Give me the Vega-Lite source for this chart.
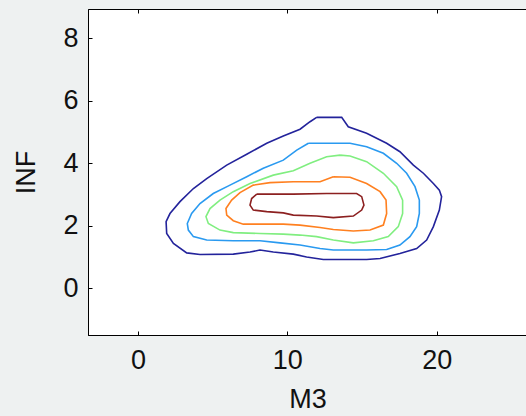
{
  "$schema": "https://vega.github.io/schema/vega-lite/v6.json",
  "width": 439,
  "height": 326,
  "autosize": {"type": "none"},
  "padding": {"left": 88, "top": 9, "right": 0, "bottom": 81},
  "background": "#eef1f1",
  "view": {"fill": "white", "stroke": "black", "strokeWidth": 1},
  "config": {
    "font": "Liberation Sans",
    "axis": {
      "grid": false,
      "labelFont": "Liberation Sans",
      "titleFont": "Liberation Sans",
      "labelFontSize": 27,
      "titleFontSize": 27,
      "titleFontWeight": "normal",
      "labelColor": "#111111",
      "titleColor": "#111111",
      "tickColor": "black",
      "domainColor": "black",
      "tickSize": -4,
      "tickWidth": 1
    }
  },
  "data": {
    "values": [
      {"level": "L1", "i": 1, "M3": 11.96, "INF": 5.47},
      {"level": "L1", "i": 2, "M3": 13.64, "INF": 5.47},
      {"level": "L1", "i": 3, "M3": 14.08, "INF": 5.17},
      {"level": "L1", "i": 4, "M3": 15.31, "INF": 4.96},
      {"level": "L1", "i": 5, "M3": 16.65, "INF": 4.64},
      {"level": "L1", "i": 6, "M3": 17.54, "INF": 4.37},
      {"level": "L1", "i": 7, "M3": 18.44, "INF": 3.94},
      {"level": "L1", "i": 8, "M3": 19.11, "INF": 3.68},
      {"level": "L1", "i": 9, "M3": 19.78, "INF": 3.35},
      {"level": "L1", "i": 10, "M3": 20.18, "INF": 3.14},
      {"level": "L1", "i": 11, "M3": 20.33, "INF": 2.93},
      {"level": "L1", "i": 12, "M3": 20.18, "INF": 2.5},
      {"level": "L1", "i": 13, "M3": 19.78, "INF": 1.97},
      {"level": "L1", "i": 14, "M3": 19.33, "INF": 1.54},
      {"level": "L1", "i": 15, "M3": 18.66, "INF": 1.27},
      {"level": "L1", "i": 16, "M3": 17.54, "INF": 1.11},
      {"level": "L1", "i": 17, "M3": 16.21, "INF": 0.95},
      {"level": "L1", "i": 18, "M3": 15.31, "INF": 0.92},
      {"level": "L1", "i": 19, "M3": 12.41, "INF": 0.92},
      {"level": "L1", "i": 20, "M3": 11.29, "INF": 1.0},
      {"level": "L1", "i": 21, "M3": 10.4, "INF": 1.09},
      {"level": "L1", "i": 22, "M3": 9.06, "INF": 1.16},
      {"level": "L1", "i": 23, "M3": 8.17, "INF": 1.22},
      {"level": "L1", "i": 24, "M3": 7.5, "INF": 1.16},
      {"level": "L1", "i": 25, "M3": 6.38, "INF": 1.09},
      {"level": "L1", "i": 26, "M3": 4.15, "INF": 1.08},
      {"level": "L1", "i": 27, "M3": 3.26, "INF": 1.13},
      {"level": "L1", "i": 28, "M3": 2.37, "INF": 1.43},
      {"level": "L1", "i": 29, "M3": 1.92, "INF": 1.75},
      {"level": "L1", "i": 30, "M3": 1.88, "INF": 2.13},
      {"level": "L1", "i": 31, "M3": 2.14, "INF": 2.39},
      {"level": "L1", "i": 32, "M3": 2.81, "INF": 2.77},
      {"level": "L1", "i": 33, "M3": 3.71, "INF": 3.19},
      {"level": "L1", "i": 34, "M3": 4.6, "INF": 3.51},
      {"level": "L1", "i": 35, "M3": 5.94, "INF": 3.94},
      {"level": "L1", "i": 36, "M3": 7.28, "INF": 4.29},
      {"level": "L1", "i": 37, "M3": 8.62, "INF": 4.64},
      {"level": "L1", "i": 38, "M3": 9.73, "INF": 4.87},
      {"level": "L1", "i": 39, "M3": 10.85, "INF": 5.09},
      {"level": "L1", "i": 40, "M3": 11.52, "INF": 5.33},
      {"level": "L1", "i": 41, "M3": 11.96, "INF": 5.47},

      {"level": "L2", "i": 1, "M3": 11.41, "INF": 4.64},
      {"level": "L2", "i": 2, "M3": 14.2, "INF": 4.64},
      {"level": "L2", "i": 3, "M3": 15.31, "INF": 4.53},
      {"level": "L2", "i": 4, "M3": 16.43, "INF": 4.32},
      {"level": "L2", "i": 5, "M3": 17.32, "INF": 4.0},
      {"level": "L2", "i": 6, "M3": 17.99, "INF": 3.68},
      {"level": "L2", "i": 7, "M3": 18.55, "INF": 3.25},
      {"level": "L2", "i": 8, "M3": 18.84, "INF": 2.82},
      {"level": "L2", "i": 9, "M3": 18.84, "INF": 2.39},
      {"level": "L2", "i": 10, "M3": 18.66, "INF": 1.97},
      {"level": "L2", "i": 11, "M3": 18.21, "INF": 1.65},
      {"level": "L2", "i": 12, "M3": 17.54, "INF": 1.38},
      {"level": "L2", "i": 13, "M3": 16.65, "INF": 1.24},
      {"level": "L2", "i": 14, "M3": 15.31, "INF": 1.22},
      {"level": "L2", "i": 15, "M3": 13.08, "INF": 1.22},
      {"level": "L2", "i": 16, "M3": 12.19, "INF": 1.27},
      {"level": "L2", "i": 17, "M3": 10.85, "INF": 1.38},
      {"level": "L2", "i": 18, "M3": 9.51, "INF": 1.45},
      {"level": "L2", "i": 19, "M3": 8.17, "INF": 1.52},
      {"level": "L2", "i": 20, "M3": 6.38, "INF": 1.52},
      {"level": "L2", "i": 21, "M3": 4.6, "INF": 1.54},
      {"level": "L2", "i": 22, "M3": 3.71, "INF": 1.65},
      {"level": "L2", "i": 23, "M3": 3.37, "INF": 1.86},
      {"level": "L2", "i": 24, "M3": 3.3, "INF": 2.07},
      {"level": "L2", "i": 25, "M3": 3.59, "INF": 2.39},
      {"level": "L2", "i": 26, "M3": 4.15, "INF": 2.71},
      {"level": "L2", "i": 27, "M3": 5.04, "INF": 3.03},
      {"level": "L2", "i": 28, "M3": 6.16, "INF": 3.3},
      {"level": "L2", "i": 29, "M3": 7.28, "INF": 3.57},
      {"level": "L2", "i": 30, "M3": 8.39, "INF": 3.84},
      {"level": "L2", "i": 31, "M3": 9.73, "INF": 4.1},
      {"level": "L2", "i": 32, "M3": 10.63, "INF": 4.42},
      {"level": "L2", "i": 33, "M3": 11.41, "INF": 4.64},

      {"level": "L3", "i": 1, "M3": 13.53, "INF": 4.26},
      {"level": "L3", "i": 2, "M3": 14.2, "INF": 4.23},
      {"level": "L3", "i": 3, "M3": 15.31, "INF": 4.05},
      {"level": "L3", "i": 4, "M3": 16.43, "INF": 3.68},
      {"level": "L3", "i": 5, "M3": 17.32, "INF": 3.25},
      {"level": "L3", "i": 6, "M3": 17.72, "INF": 2.82},
      {"level": "L3", "i": 7, "M3": 17.72, "INF": 2.39},
      {"level": "L3", "i": 8, "M3": 17.43, "INF": 1.97},
      {"level": "L3", "i": 9, "M3": 16.76, "INF": 1.65},
      {"level": "L3", "i": 10, "M3": 15.76, "INF": 1.52},
      {"level": "L3", "i": 11, "M3": 14.42, "INF": 1.45},
      {"level": "L3", "i": 12, "M3": 13.08, "INF": 1.54},
      {"level": "L3", "i": 13, "M3": 11.96, "INF": 1.65},
      {"level": "L3", "i": 14, "M3": 10.85, "INF": 1.7},
      {"level": "L3", "i": 15, "M3": 9.73, "INF": 1.73},
      {"level": "L3", "i": 16, "M3": 8.17, "INF": 1.75},
      {"level": "L3", "i": 17, "M3": 6.38, "INF": 1.78},
      {"level": "L3", "i": 18, "M3": 5.49, "INF": 1.86},
      {"level": "L3", "i": 19, "M3": 4.71, "INF": 2.07},
      {"level": "L3", "i": 20, "M3": 4.55, "INF": 2.29},
      {"level": "L3", "i": 21, "M3": 4.82, "INF": 2.55},
      {"level": "L3", "i": 22, "M3": 5.49, "INF": 2.82},
      {"level": "L3", "i": 23, "M3": 6.38, "INF": 3.09},
      {"level": "L3", "i": 24, "M3": 7.5, "INF": 3.35},
      {"level": "L3", "i": 25, "M3": 9.06, "INF": 3.62},
      {"level": "L3", "i": 26, "M3": 10.4, "INF": 3.76},
      {"level": "L3", "i": 27, "M3": 11.52, "INF": 4.0},
      {"level": "L3", "i": 28, "M3": 12.63, "INF": 4.21},
      {"level": "L3", "i": 29, "M3": 13.53, "INF": 4.26},

      {"level": "L4", "i": 1, "M3": 13.08, "INF": 3.57},
      {"level": "L4", "i": 2, "M3": 14.2, "INF": 3.55},
      {"level": "L4", "i": 3, "M3": 15.31, "INF": 3.35},
      {"level": "L4", "i": 4, "M3": 16.21, "INF": 3.09},
      {"level": "L4", "i": 5, "M3": 16.61, "INF": 2.82},
      {"level": "L4", "i": 6, "M3": 16.65, "INF": 2.39},
      {"level": "L4", "i": 7, "M3": 16.43, "INF": 2.02},
      {"level": "L4", "i": 8, "M3": 15.54, "INF": 1.86},
      {"level": "L4", "i": 9, "M3": 14.42, "INF": 1.83},
      {"level": "L4", "i": 10, "M3": 13.08, "INF": 1.88},
      {"level": "L4", "i": 11, "M3": 12.19, "INF": 1.94},
      {"level": "L4", "i": 12, "M3": 10.85, "INF": 2.02},
      {"level": "L4", "i": 13, "M3": 9.73, "INF": 2.05},
      {"level": "L4", "i": 14, "M3": 8.17, "INF": 2.05},
      {"level": "L4", "i": 15, "M3": 7.05, "INF": 2.05},
      {"level": "L4", "i": 16, "M3": 6.38, "INF": 2.16},
      {"level": "L4", "i": 17, "M3": 5.94, "INF": 2.34},
      {"level": "L4", "i": 18, "M3": 5.89, "INF": 2.55},
      {"level": "L4", "i": 19, "M3": 6.27, "INF": 2.82},
      {"level": "L4", "i": 20, "M3": 6.83, "INF": 3.06},
      {"level": "L4", "i": 21, "M3": 7.72, "INF": 3.3},
      {"level": "L4", "i": 22, "M3": 8.84, "INF": 3.38},
      {"level": "L4", "i": 23, "M3": 10.4, "INF": 3.41},
      {"level": "L4", "i": 24, "M3": 12.19, "INF": 3.41},
      {"level": "L4", "i": 25, "M3": 13.08, "INF": 3.57},

      {"level": "L5", "i": 1, "M3": 7.95, "INF": 3.01},
      {"level": "L5", "i": 2, "M3": 10.4, "INF": 3.01},
      {"level": "L5", "i": 3, "M3": 12.63, "INF": 3.03},
      {"level": "L5", "i": 4, "M3": 14.64, "INF": 3.03},
      {"level": "L5", "i": 5, "M3": 14.98, "INF": 2.93},
      {"level": "L5", "i": 6, "M3": 15.13, "INF": 2.66},
      {"level": "L5", "i": 7, "M3": 14.98, "INF": 2.5},
      {"level": "L5", "i": 8, "M3": 14.42, "INF": 2.31},
      {"level": "L5", "i": 9, "M3": 13.08, "INF": 2.26},
      {"level": "L5", "i": 10, "M3": 11.96, "INF": 2.31},
      {"level": "L5", "i": 11, "M3": 10.4, "INF": 2.34},
      {"level": "L5", "i": 12, "M3": 9.73, "INF": 2.41},
      {"level": "L5", "i": 13, "M3": 8.62, "INF": 2.45},
      {"level": "L5", "i": 14, "M3": 7.72, "INF": 2.5},
      {"level": "L5", "i": 15, "M3": 7.5, "INF": 2.66},
      {"level": "L5", "i": 16, "M3": 7.61, "INF": 2.87},
      {"level": "L5", "i": 17, "M3": 7.95, "INF": 3.01}
    ]
  },
  "layer": [
    {
      "mark": {"type": "line", "strokeWidth": 1.6, "interpolate": "linear"},
      "encoding": {
        "x": {
          "field": "M3", "type": "quantitative",
          "scale": {"domain": [-3.35, 26.05], "nice": false, "zero": false},
          "axis": {"title": "M3", "values": [0, 10, 20], "orient": "bottom", "labelPadding": 16, "titlePadding": 13}
        },
        "y": {
          "field": "INF", "type": "quantitative",
          "scale": {"domain": [-1.5, 8.94], "nice": false, "zero": false},
          "axis": {"title": "INF", "values": [0, 2, 4, 6, 8], "labelPadding": 14, "titlePadding": 22}
        },
        "order": {"field": "i", "type": "quantitative"},
        "detail": {"field": "level"},
        "color": {
          "field": "level", "type": "nominal", "legend": null,
          "scale": {"domain": ["L1", "L2", "L3", "L4", "L5"], "range": ["#23239b", "#2a9af0", "#80ee80", "#ff8020", "#8c2020"]}
        }
      }
    },
    {
      "mark": {"type": "line", "opacity": 0},
      "encoding": {
        "x": {
          "field": "M3", "type": "quantitative",
          "axis": {"orient": "top", "title": null, "labels": false, "domain": false, "values": [0, 10, 20]}
        },
        "y": {"field": "INF", "type": "quantitative"},
        "order": {"field": "i", "type": "quantitative"},
        "detail": {"field": "level"}
      }
    }
  ],
  "resolve": {"axis": {"x": "independent"}}
}
